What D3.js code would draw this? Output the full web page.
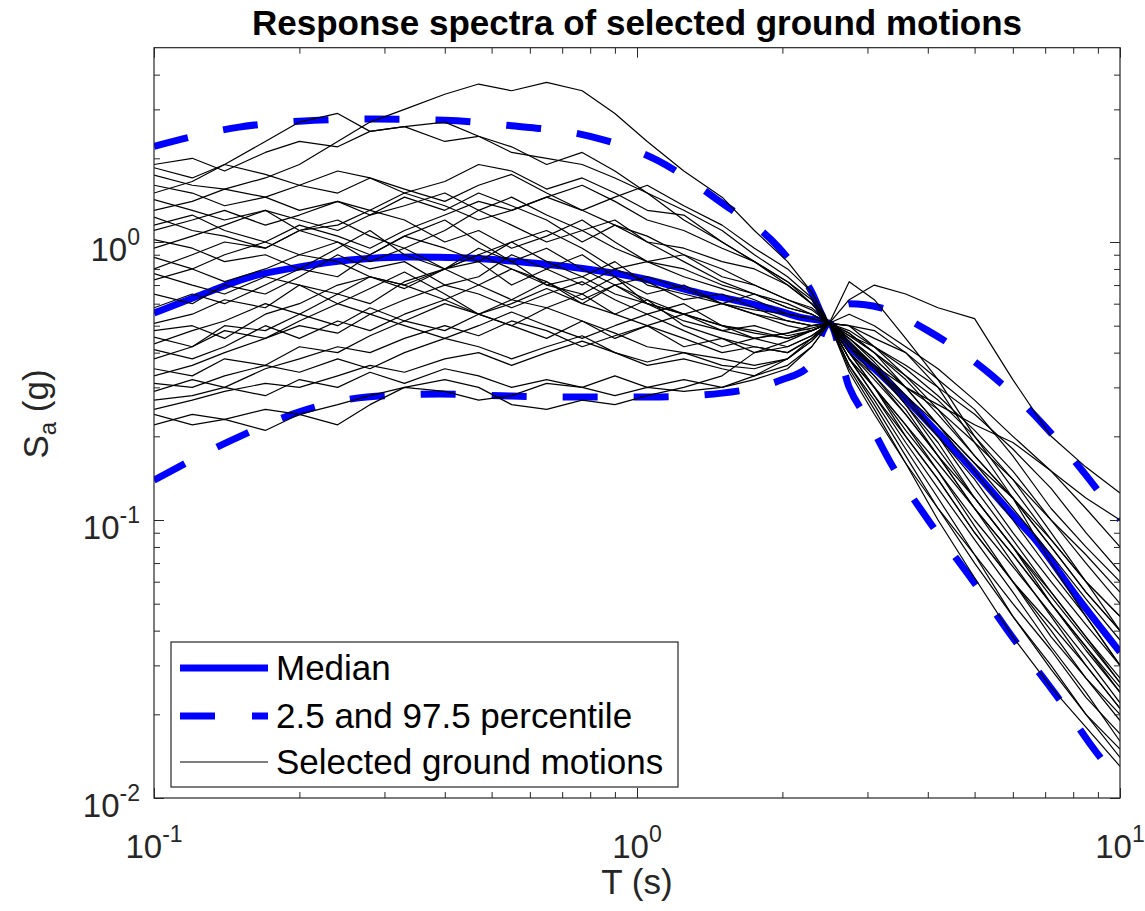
<!DOCTYPE html>
<html>
<head>
<meta charset="utf-8">
<script src="https://cdn.jsdelivr.net/npm/d3@7"></script>
<style>
  html, body { margin: 0; padding: 0; background: #ffffff; }
  svg { display: block; font-family: "Liberation Sans", Arial, Helvetica, sans-serif; }
</style>
</head>
<body>
<svg id="chart" width="1145" height="911"></svg>
<script>
// ---------------- DATA ----------------
const periods = [0.1, 0.12, 0.14, 0.17, 0.2, 0.24, 0.28, 0.33, 0.4, 0.47, 0.55, 0.65, 0.77, 0.9, 1.05, 1.25, 1.5, 1.75, 2.05, 2.3, 2.5, 2.75, 3.1, 3.6, 4.2, 5.0, 6.0, 7.2, 8.5, 10];

const groundMotions = [
  [1.9,2.0,1.8,2.1,2.3,2.2,2.5,2.6,2.3,2.4,2.1,2.0,1.9,1.7,1.5,1.3,1.1,0.9,0.75,0.63,0.51,0.47,0.4,0.3,0.22,0.15,0.1,0.065,0.045,0.03],
  [1.85,1.7,1.9,1.75,1.6,1.8,1.7,1.5,1.65,1.9,1.8,1.55,1.7,1.5,1.3,1.25,1.0,0.85,0.7,0.6,0.51,0.38,0.3,0.2,0.14,0.09,0.06,0.038,0.027,0.02],
  [1.74,1.6,1.55,1.7,1.9,2.3,2.7,3.0,3.4,3.7,3.5,3.75,3.5,2.9,2.3,1.8,1.45,1.1,0.85,0.66,0.51,0.45,0.37,0.28,0.2,0.13,0.085,0.055,0.038,0.026],
  [1.6,1.5,1.35,1.45,1.3,1.4,1.25,1.35,1.5,1.3,1.45,1.25,1.1,1.2,1.0,0.95,0.85,0.8,0.7,0.6,0.51,0.44,0.36,0.26,0.19,0.12,0.08,0.05,0.035,0.024],
  [1.5,1.65,1.9,2.3,2.7,2.9,2.5,2.6,2.7,2.4,2.2,1.9,2.1,1.8,1.5,1.2,1.0,0.85,0.72,0.62,0.51,0.5,0.42,0.33,0.25,0.17,0.12,0.08,0.055,0.04],
  [1.42,1.3,1.2,1.3,1.1,1.15,1.3,1.2,1.0,1.1,0.95,1.05,1.2,1.0,0.85,0.9,0.8,0.7,0.62,0.57,0.51,0.42,0.35,0.28,0.22,0.16,0.12,0.085,0.06,0.045],
  [1.3,1.4,1.55,1.45,1.6,1.5,1.7,1.55,1.4,1.6,1.75,1.5,1.3,1.45,1.6,1.35,1.15,0.95,0.8,0.66,0.51,0.55,0.5,0.42,0.35,0.27,0.2,0.15,0.12,0.1],
  [1.23,1.1,1.05,0.95,1.1,1.0,0.9,1.05,1.2,1.0,0.85,0.95,0.8,0.7,0.75,0.68,0.6,0.65,0.58,0.55,0.51,0.4,0.32,0.24,0.17,0.11,0.07,0.045,0.03,0.021],
  [1.1,1.2,1.3,1.15,1.25,1.4,1.3,1.5,1.35,1.2,1.3,1.45,1.6,1.4,1.2,1.1,0.95,0.85,0.72,0.6,0.51,0.62,0.7,0.65,0.58,0.53,0.32,0.2,0.155,0.125],
  [1.02,0.95,0.85,0.9,0.8,0.95,1.1,0.9,0.8,0.85,0.7,0.8,0.9,0.75,0.65,0.7,0.6,0.55,0.5,0.48,0.51,0.72,0.62,0.45,0.32,0.2,0.13,0.085,0.06,0.045],
  [0.95,1.05,1.15,1.3,1.2,1.1,1.25,1.45,1.3,1.5,1.35,1.2,1.0,1.15,1.05,0.9,0.75,0.7,0.62,0.58,0.51,0.45,0.38,0.3,0.26,0.22,0.19,0.15,0.11,0.08],
  [0.88,0.8,0.72,0.8,0.9,0.85,0.75,0.7,0.8,0.95,0.85,0.7,0.65,0.75,0.6,0.55,0.5,0.47,0.45,0.48,0.51,0.38,0.28,0.19,0.13,0.085,0.055,0.035,0.024,0.016],
  [0.8,0.9,1.0,0.95,1.1,1.2,1.05,0.95,1.1,1.3,1.15,1.0,1.1,0.95,0.85,0.8,0.7,0.65,0.58,0.55,0.51,0.46,0.4,0.32,0.24,0.17,0.12,0.08,0.055,0.04],
  [0.77,0.7,0.65,0.75,0.7,0.6,0.68,0.78,0.65,0.55,0.62,0.72,0.6,0.55,0.62,0.5,0.45,0.42,0.4,0.45,0.51,0.5,0.45,0.4,0.3,0.19,0.12,0.07,0.045,0.03],
  [0.73,0.8,0.9,1.0,1.15,1.05,0.95,1.1,1.25,1.4,1.3,1.45,1.3,1.15,1.0,0.85,0.72,0.65,0.6,0.55,0.51,0.4,0.3,0.22,0.15,0.095,0.06,0.04,0.027,0.019],
  [0.65,0.6,0.7,0.65,0.75,0.9,0.8,0.85,0.7,0.75,0.9,0.8,0.7,0.8,0.72,0.62,0.65,0.58,0.52,0.5,0.51,0.44,0.35,0.26,0.18,0.12,0.08,0.053,0.037,0.026],
  [0.58,0.65,0.6,0.7,0.8,0.75,0.9,1.05,0.95,0.85,1.0,1.1,0.95,0.8,0.85,0.75,0.68,0.62,0.55,0.53,0.51,0.42,0.36,0.3,0.25,0.19,0.14,0.1,0.075,0.055],
  [0.51,0.55,0.62,0.58,0.7,0.65,0.6,0.72,0.8,0.7,0.62,0.58,0.65,0.55,0.5,0.55,0.48,0.45,0.47,0.5,0.51,0.36,0.27,0.18,0.12,0.075,0.045,0.029,0.02,0.014],
  [0.48,0.5,0.45,0.55,0.6,0.7,0.75,0.68,0.8,0.9,0.8,0.7,0.75,0.65,0.6,0.55,0.6,0.55,0.52,0.5,0.51,0.4,0.33,0.25,0.17,0.11,0.075,0.05,0.035,0.025],
  [0.455,0.42,0.5,0.48,0.55,0.5,0.58,0.52,0.6,0.55,0.5,0.58,0.52,0.45,0.5,0.42,0.45,0.4,0.42,0.46,0.51,0.47,0.4,0.33,0.27,0.2,0.14,0.09,0.06,0.04],
  [0.43,0.48,0.52,0.6,0.55,0.65,0.75,0.7,0.62,0.7,0.8,0.72,0.62,0.7,0.62,0.55,0.5,0.48,0.45,0.48,0.51,0.43,0.36,0.27,0.2,0.14,0.09,0.06,0.042,0.03],
  [0.41,0.38,0.42,0.5,0.45,0.52,0.48,0.55,0.62,0.55,0.6,0.68,0.6,0.7,0.6,0.52,0.48,0.5,0.46,0.48,0.51,0.38,0.3,0.21,0.15,0.1,0.068,0.046,0.032,0.022],
  [0.38,0.42,0.48,0.45,0.52,0.6,0.55,0.62,0.7,0.65,0.58,0.65,0.72,0.62,0.55,0.6,0.5,0.45,0.47,0.49,0.51,0.34,0.24,0.16,0.11,0.075,0.05,0.034,0.023,0.017],
  [0.35,0.33,0.38,0.36,0.42,0.4,0.46,0.52,0.48,0.55,0.5,0.45,0.52,0.47,0.42,0.4,0.36,0.35,0.38,0.44,0.51,0.45,0.38,0.3,0.22,0.16,0.11,0.075,0.052,0.037],
  [0.33,0.36,0.4,0.45,0.5,0.47,0.55,0.5,0.45,0.5,0.56,0.5,0.45,0.5,0.55,0.48,0.42,0.45,0.42,0.46,0.51,0.42,0.33,0.24,0.17,0.12,0.08,0.055,0.038,0.027],
  [0.31,0.3,0.33,0.36,0.34,0.38,0.35,0.4,0.45,0.42,0.38,0.42,0.46,0.4,0.36,0.38,0.35,0.33,0.36,0.42,0.51,0.38,0.28,0.2,0.14,0.09,0.06,0.042,0.03,0.021],
  [0.29,0.32,0.3,0.35,0.38,0.42,0.4,0.45,0.5,0.46,0.52,0.48,0.42,0.46,0.5,0.45,0.4,0.42,0.4,0.45,0.51,0.46,0.42,0.36,0.3,0.24,0.18,0.13,0.09,0.065],
  [0.27,0.28,0.3,0.28,0.32,0.3,0.34,0.31,0.35,0.33,0.3,0.32,0.3,0.33,0.3,0.32,0.3,0.32,0.35,0.42,0.51,0.36,0.26,0.17,0.11,0.07,0.045,0.03,0.02,0.015],
  [0.25,0.27,0.29,0.31,0.3,0.33,0.36,0.34,0.38,0.4,0.36,0.4,0.44,0.4,0.37,0.4,0.38,0.36,0.38,0.44,0.51,0.48,0.42,0.35,0.28,0.21,0.15,0.1,0.07,0.05],
  [0.22,0.24,0.23,0.25,0.24,0.26,0.28,0.3,0.29,0.27,0.28,0.31,0.3,0.28,0.3,0.29,0.3,0.33,0.38,0.45,0.51,0.4,0.3,0.22,0.16,0.11,0.075,0.05,0.034,0.024],
  [0.24,0.22,0.23,0.21,0.24,0.22,0.26,0.3,0.32,0.3,0.26,0.25,0.27,0.26,0.28,0.3,0.33,0.4,0.44,0.48,0.51,0.35,0.25,0.16,0.1,0.062,0.038,0.025,0.018,0.013],
  [1.15,1.25,1.1,1.0,0.9,1.0,0.85,0.95,0.8,0.9,1.0,0.85,0.75,0.85,0.7,0.65,0.6,0.57,0.55,0.53,0.51,0.5,0.48,0.4,0.32,0.25,0.17,0.11,0.08,0.06]
];

const medianT = [0.1, 0.125, 0.158, 0.2, 0.254, 0.339, 0.445, 0.609, 0.838, 1.06, 1.35, 1.58, 1.9, 2.17, 2.5, 2.75, 3.1, 3.5, 4.2, 4.82, 6.0, 6.6, 8.14, 10];
const medianV = [0.555, 0.645, 0.748, 0.813, 0.861, 0.883, 0.876, 0.84, 0.786, 0.73, 0.655, 0.62, 0.575, 0.537, 0.51, 0.42, 0.35, 0.286, 0.206, 0.16, 0.104, 0.087, 0.053, 0.0335];

const upperT = [0.1, 0.15, 0.2, 0.28, 0.4, 0.55, 0.8, 1.1, 1.5, 1.96, 2.28, 2.5, 2.75, 3.2, 4.0, 5.33, 6.83, 8.5, 10];
const upperV = [2.21, 2.59, 2.72, 2.77, 2.74, 2.62, 2.4, 1.97, 1.38, 0.96, 0.68, 0.51, 0.6, 0.58, 0.48, 0.34, 0.227, 0.145, 0.1];

const lowerT = [0.1, 0.146, 0.2, 0.276, 0.39, 0.55, 0.76, 1.07, 1.5, 2.0, 2.26, 2.5, 2.75, 3.0, 3.34, 4.04, 4.94, 6.0, 7.37, 8.96, 10];
const lowerV = [0.139, 0.195, 0.245, 0.277, 0.284, 0.279, 0.277, 0.277, 0.286, 0.32, 0.355, 0.51, 0.3, 0.23, 0.162, 0.098, 0.061, 0.0377, 0.0235, 0.0145, 0.0115];

const xMajorTicks = [0.1, 1, 10];
const xTickLabels = [["10", "-1"], ["10", "0"], ["10", "1"]];
const yMajorTicks = [0.01, 0.1, 1];
const yTickLabels = [["10", "-2"], ["10", "-1"], ["10", "0"]];
const legendLabels = ["Median", "2.5 and 97.5 percentile", "Selected ground motions"];
const titleText = "Response spectra of selected ground motions";

// ---------------- LAYOUT ----------------
const L = 154, R = 1120, B = 798;
const T0 = B - Math.log10(500) * 278;
const axisColor = "#262626";
const blue = "#0000ff";

const svg = d3.select("#chart");
const x = d3.scaleLog().domain([0.1, 10]).range([L, R]);
const y = d3.scaleLog().domain([0.01, 5]).range([B, T0]);

svg.append("defs").append("clipPath").attr("id", "plotclip")
  .append("rect").attr("x", L).attr("y", T0).attr("width", R - L).attr("height", B - T0);

const plot = svg.append("g").attr("clip-path", "url(#plotclip)");

const lineLin = d3.line().x(d => x(d[0])).y(d => y(d[1]));
const lineSmooth = d3.line().x(d => x(d[0])).y(d => y(d[1])).curve(d3.curveMonotoneX);

// Median
plot.append("path")
  .attr("d", lineSmooth(medianT.map((t, i) => [t, medianV[i]])))
  .attr("fill", "none").attr("stroke", blue).attr("stroke-width", 7);
// Percentiles
[[upperT, upperV], [lowerT, lowerV]].forEach(([ts, vs]) => {
  plot.append("path")
    .attr("d", lineSmooth(ts.map((t, i) => [t, vs[i]])))
    .attr("fill", "none").attr("stroke", blue).attr("stroke-width", 7)
    .attr("stroke-dasharray", "35,36");
});
// Ground motions
groundMotions.forEach(gm => {
  plot.append("path")
    .attr("d", lineLin(periods.map((t, i) => [t, gm[i]])))
    .attr("fill", "none").attr("stroke", "#000").attr("stroke-width", 1.2)
    .attr("stroke-linejoin", "round");
});

// ---------------- AXES ----------------
function minorTicks(lo, hi) {
  const out = [];
  for (let e = Math.floor(Math.log10(lo)); e <= Math.ceil(Math.log10(hi)); e++) {
    for (let m = 2; m <= 9; m++) {
      const v = m * Math.pow(10, e);
      if (v > lo * 1.0001 && v < hi * 0.9999) out.push(v);
    }
  }
  return out;
}
const xMinor = minorTicks(0.1, 10);
const yMinor = minorTicks(0.01, 5);

function styleAxis(g) {
  g.select(".domain").remove();
  g.selectAll("line").attr("stroke", axisColor).attr("stroke-width", 1);
  g.selectAll("text").remove();
}
svg.append("g").attr("transform", `translate(0,${B})`)
  .call(d3.axisBottom(x).tickValues(xMajorTicks).tickSize(-10).tickFormat("")).call(styleAxis);
svg.append("g").attr("transform", `translate(0,${B})`)
  .call(d3.axisBottom(x).tickValues(xMinor).tickSize(-6).tickFormat("")).call(styleAxis);
svg.append("g").attr("transform", `translate(0,${T0})`)
  .call(d3.axisTop(x).tickValues(xMajorTicks).tickSize(-10).tickFormat("")).call(styleAxis);
svg.append("g").attr("transform", `translate(0,${T0})`)
  .call(d3.axisTop(x).tickValues(xMinor).tickSize(-6).tickFormat("")).call(styleAxis);
svg.append("g").attr("transform", `translate(${L},0)`)
  .call(d3.axisLeft(y).tickValues(yMajorTicks).tickSize(-10).tickFormat("")).call(styleAxis);
svg.append("g").attr("transform", `translate(${L},0)`)
  .call(d3.axisLeft(y).tickValues(yMinor).tickSize(-6).tickFormat("")).call(styleAxis);
svg.append("g").attr("transform", `translate(${R},0)`)
  .call(d3.axisRight(y).tickValues(yMajorTicks).tickSize(-10).tickFormat("")).call(styleAxis);
svg.append("g").attr("transform", `translate(${R},0)`)
  .call(d3.axisRight(y).tickValues(yMinor).tickSize(-6).tickFormat("")).call(styleAxis);

svg.append("rect").attr("x", L).attr("y", T0).attr("width", R - L).attr("height", B - T0)
  .attr("fill", "none").attr("stroke", axisColor).attr("stroke-width", 1.2);

// X tick labels
xMajorTicks.forEach((v, i) => {
  const t = svg.append("text").attr("x", x(v)).attr("y", B + 60)
    .attr("text-anchor", "middle").attr("fill", axisColor).attr("font-size", 33);
  t.append("tspan").text(xTickLabels[i][0]);
  t.append("tspan").attr("dy", -16).attr("font-size", 23).text(xTickLabels[i][1]);
});
// Y tick labels
yMajorTicks.forEach((v, i) => {
  const t = svg.append("text").attr("x", L - 14).attr("y", y(v) + 19)
    .attr("text-anchor", "end").attr("fill", axisColor).attr("font-size", 33);
  t.append("tspan").text(yTickLabels[i][0]);
  t.append("tspan").attr("dy", -16).attr("font-size", 23).text(yTickLabels[i][1]);
});

// Axis labels
svg.append("text").attr("x", (L + R) / 2).attr("y", 894)
  .attr("text-anchor", "middle").attr("fill", axisColor).attr("font-size", 35).text("T (s)");
const yl = svg.append("text").attr("transform", `translate(48,414) rotate(-90)`)
  .attr("text-anchor", "middle").attr("fill", axisColor).attr("font-size", 35);
yl.append("tspan").text("S");
yl.append("tspan").attr("font-size", 24).attr("dy", 8).text("a");
yl.append("tspan").attr("dy", -8).text(" (g)");

// Title
svg.append("text").attr("x", (L + R) / 2).attr("y", 35)
  .attr("text-anchor", "middle").attr("fill", "#000").attr("font-size", 35)
  .attr("font-weight", "bold").text(titleText);

// ---------------- LEGEND ----------------
const lg = svg.append("g");
lg.append("rect").attr("x", 171).attr("y", 642).attr("width", 507).attr("height", 145)
  .attr("fill", "#fff").attr("stroke", axisColor).attr("stroke-width", 1.2);
const rowsY = [668, 716, 762];
const legendStyles = [
  { w: 7, c: blue, dash: null },
  { w: 7, c: blue, dash: "35,37" },
  { w: 1.2, c: "#000", dash: null }
];
legendLabels.forEach((lab, i) => {
  const s = legendStyles[i];
  const ln = lg.append("line").attr("x1", 180).attr("x2", 268)
    .attr("y1", rowsY[i]).attr("y2", rowsY[i])
    .attr("stroke", s.c).attr("stroke-width", s.w);
  if (s.dash) ln.attr("stroke-dasharray", s.dash);
  lg.append("text").attr("x", 276).attr("y", rowsY[i] + 12)
    .attr("font-size", 35).attr("fill", "#000").text(lab);
});
</script>
</body>
</html>
